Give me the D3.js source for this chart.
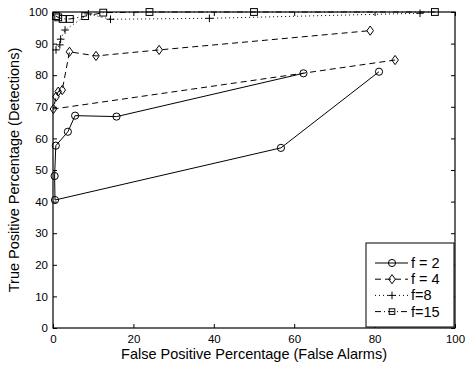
<!DOCTYPE html>
<html>
<head>
<meta charset="utf-8">
<script src="https://cdn.jsdelivr.net/npm/d3@7"></script>
<style>
  body { margin: 0; background: #fff; }
  svg { font-family: "Liberation Sans", Arial, sans-serif; }
</style>
</head>
<body>
<div id="chart"></div>
<script>
// values, in the order the lines join them
const f2 = [[62.3, 80.6], [15.8, 66.9], [5.5, 67.2], [3.7, 62.1], [0.7, 57.7], [0.4, 48.1], [0.5, 40.5], [56.7, 57.0], [81.1, 81.1]];
const f4 = [[85.1, 84.8], [0.1, 69.3], [0.75, 73.2], [1.3, 74.8], [2.3, 75.3], [4.1, 87.4], [10.7, 86.1], [26.4, 88.0], [78.9, 94.1]];
const f8 = [[0.75, 88.0], [1.7, 89.6], [1.9, 91.4], [3.0, 94.3], [8.8, 99.4], [14.3, 97.7], [38.9, 98.0], [91.3, 99.6]];
const f15 = [[0.75, 98.7], [1.3, 98.3], [2.4, 97.8], [4.2, 97.8], [8.0, 98.7], [12.5, 99.8], [24.0, 100.0], [50.0, 100.0], [95.0, 100.0]];

const seriesNames = ["f = 2", "f = 4", "f=8", "f=15"];
const xTicks = [0, 20, 40, 60, 80, 100];
const yTicks = [0, 10, 20, 30, 40, 50, 60, 70, 80, 90, 100];

const width = 466, height = 372;
const marginLeft = 53, marginRight = 11, marginTop = 12, marginBottom = 44;

const svg = d3.select("#chart").append("svg")
  .attr("width", width)
  .attr("height", height)
  .attr("viewBox", [0, 0, width, height]);

const x = d3.scaleLinear().domain([0, 100]).range([marginLeft, width - marginRight]);
const y = d3.scaleLinear().domain([0, 100]).range([height - marginBottom, marginTop]);

const series = [
  { name: seriesNames[0], data: f2, dash: null, marker: "circle" },
  { name: seriesNames[1], data: f4, dash: "6,4", marker: "diamond" },
  { name: seriesNames[2], data: f8, dash: "1,3", marker: "plus" },
  { name: seriesNames[3], data: f15, dash: "6,3,1,3", marker: "square" }
];

function drawMarker(g, type, cx, cy, small) {
  if (type === "circle") {
    g.append("circle").attr("cx", cx).attr("cy", cy).attr("r", 3.6)
      .attr("fill", "none").attr("stroke", "#000");
  } else if (type === "diamond") {
    const w = 3.3, h = 4.6;
    g.append("path")
      .attr("d", `M${cx},${cy - h}L${cx + w},${cy}L${cx},${cy + h}L${cx - w},${cy}Z`)
      .attr("fill", "none").attr("stroke", "#000");
  } else if (type === "plus") {
    const s = 3.8;
    g.append("path")
      .attr("d", `M${cx - s},${cy}H${cx + s}M${cx},${cy - s}V${cy + s}`)
      .attr("fill", "none").attr("stroke", "#000");
  } else {
    const s = small ? 2.8 : 3.4;
    g.append("rect").attr("x", cx - s).attr("y", cy - s)
      .attr("width", 2 * s).attr("height", 2 * s)
      .attr("fill", "none").attr("stroke", "#000");
  }
}

const line = d3.line().x(d => x(d[0])).y(d => y(d[1]));

const plot = svg.append("g");
series.forEach(s => {
  plot.append("path")
    .datum(s.data)
    .attr("d", line)
    .attr("fill", "none")
    .attr("stroke", "#000")
    .attr("stroke-width", 1)
    .attr("stroke-dasharray", s.dash);
  const mg = plot.append("g");
  s.data.forEach(d => drawMarker(mg, s.marker, x(d[0]), y(d[1])));
});

// axes with inward ticks, MATLAB style box
const tick = 4;
svg.append("g")
  .attr("transform", `translate(0,${y(0)})`)
  .call(d3.axisBottom(x).tickValues(xTicks).tickSize(-tick).tickPadding(7).tickSizeOuter(0))
  .call(g => g.select(".domain").remove())
  .call(g => g.selectAll("text").attr("font-size", 11.5).attr("fill", "#000"));
svg.append("g")
  .attr("transform", `translate(0,${y(100)})`)
  .call(d3.axisTop(x).tickValues(xTicks).tickSize(-tick).tickFormat("").tickSizeOuter(0))
  .call(g => g.select(".domain").remove());
svg.append("g")
  .attr("transform", `translate(${x(0)},0)`)
  .call(d3.axisLeft(y).tickValues(yTicks).tickSize(-tick).tickPadding(5).tickSizeOuter(0))
  .call(g => g.select(".domain").remove())
  .call(g => g.selectAll("text").attr("font-size", 11.5).attr("fill", "#000"));
svg.append("g")
  .attr("transform", `translate(${x(100)},0)`)
  .call(d3.axisRight(y).tickValues(yTicks).tickSize(-tick).tickFormat("").tickSizeOuter(0))
  .call(g => g.select(".domain").remove());

svg.append("rect")
  .attr("x", x(0)).attr("y", y(100))
  .attr("width", x(100) - x(0)).attr("height", y(0) - y(100))
  .attr("fill", "none").attr("stroke", "#000").attr("stroke-width", 1.2);

svg.append("text")
  .attr("x", (x(0) + x(100)) / 2).attr("y", 359)
  .attr("text-anchor", "middle").attr("font-size", 14.5)
  .text("False Positive Percentage (False Alarms)");

svg.append("text")
  .attr("transform", `translate(19,${(y(0) + y(100)) / 2}) rotate(-90)`)
  .attr("text-anchor", "middle").attr("font-size", 14.5)
  .text("True Positive Percentage (Detections)");

// legend
const lg = svg.append("g");
const lx = 366, ly = 243, lw = 88, lh = 84;
lg.append("rect").attr("x", lx).attr("y", ly).attr("width", lw).attr("height", lh)
  .attr("fill", "#fff").attr("stroke", "#000");
series.forEach((s, i) => {
  const cy = ly + 20 + i * 16.2;
  lg.append("line").attr("x1", lx + 9).attr("x2", lx + 42)
    .attr("y1", cy).attr("y2", cy)
    .attr("stroke", "#000").attr("stroke-dasharray", s.dash);
  drawMarker(lg.append("g"), s.marker, lx + 26, cy, true);
  lg.append("text").attr("x", lx + 45).attr("y", cy + 5)
    .attr("font-size", 14.5).text(s.name);
});
</script>
</body>
</html>
